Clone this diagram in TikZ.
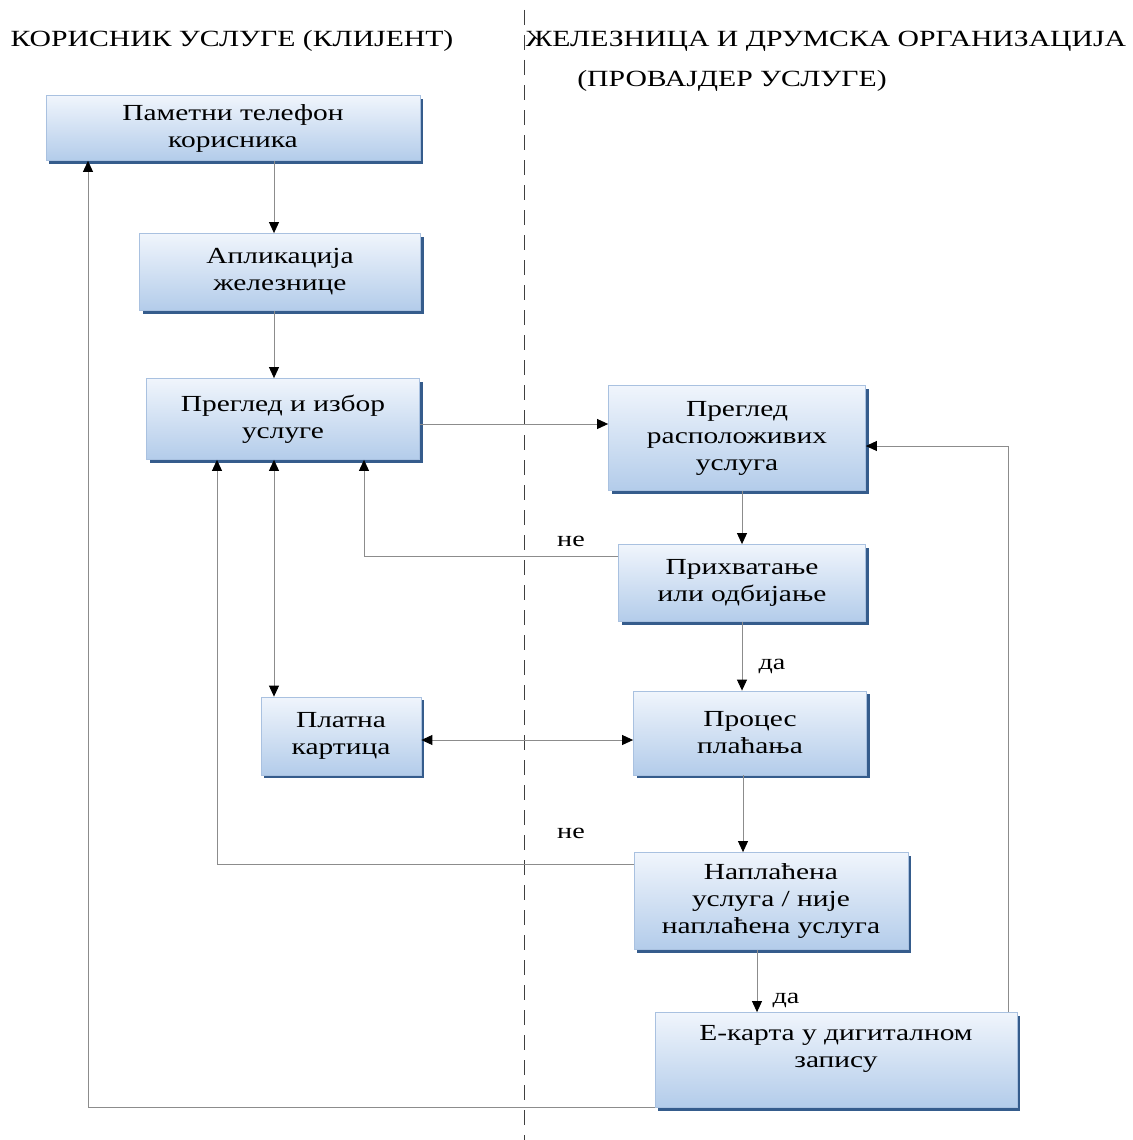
\documentclass[tikz,border=0pt]{standalone}
\usepackage{fontspec}
\setmainfont{Liberation Serif}[FakeStretch=1.28]
\usetikzlibrary{arrows.meta,shadows}
\definecolor{boxtop}{HTML}{F0F5FC}
\definecolor{boxbot}{HTML}{B3CCEA}
\definecolor{boxline}{HTML}{A9C1E0}
\definecolor{boxshadow}{HTML}{355C8C}
\definecolor{linegray}{HTML}{8C8C8C}
\begin{document}
\begin{tikzpicture}[x=1pt,y=-1pt,
  box/.style={draw=boxline, line width=0.8pt, top color=boxtop, bottom color=boxbot,
    drop shadow={shadow xshift=3pt, shadow yshift=-3pt, fill=boxshadow, opacity=1},
    align=center, inner sep=0pt, font=\fontsize{23}{27}\selectfont},
  tip/.tip={Triangle[width=10pt,length=11pt,color=black]},
  conn/.style={draw=linegray, line width=0.9pt, -tip},
  both/.style={draw=linegray, line width=0.9pt, tip-tip},
  heading/.style={font=\fontsize{23.2}{28}\selectfont, inner sep=0pt},
  answer/.style={font=\fontsize{22}{26}\selectfont, inner sep=0pt}]
\useasboundingbox (0,0) rectangle (1132,1140);

% lane divider
\draw[black!75, line width=1pt, dash pattern=on 15pt off 10pt] (524,10) -- (524,1140);

% lane headings
\node[heading] (hl) at (232,41) {КОРИСНИК УСЛУГЕ (КЛИЈЕНТ)};
\node[heading] (hr) at (826,41) {ЖЕЛЕЗНИЦА И ДРУМСКА ОРГАНИЗАЦИЈА};
\node[heading] (hr2) at (732,81) {(ПРОВАЈДЕР УСЛУГЕ)};

% process steps
\node[box, minimum width=374pt, minimum height=65pt] (b1) at (233,128) {Паметни телефон\\корисника};
\node[box, minimum width=281pt, minimum height=77pt] (b2) at (280,272) {Апликација\\железнице};
\node[box, minimum width=273pt, minimum height=81pt] (b3) at (283,419) {Преглед и избор\\услуге};
\node[box, minimum width=257pt, minimum height=105pt] (b4) at (737,438) {Преглед\\расположивих\\услуга};
\node[box, minimum width=247pt, minimum height=77pt] (b5) at (742,583) {Прихватање\\или одбијање};
\node[box, minimum width=160pt, minimum height=78pt] (b6) at (341,736) {Платна\\картица};
\node[box, minimum width=233pt, minimum height=84pt] (b7) at (750,733) {Процес\\плаћања};
\node[box, minimum width=274pt, minimum height=97pt] (b8) at (771,901) {Наплаћена\\услуга / није\\наплаћена услуга};
\node[box, minimum width=362pt, minimum height=95pt] (b9) at (836,1060) {Е-карта у дигиталном\\запису\\~};

% connectors
\draw[conn] (b1.south -| 274,0) -- (b2.north -| 274,0);
\draw[conn] (b2.south -| 274,0) -- (b3.north -| 274,0);
\draw[conn] (b3.east |- 0,424) -- (b4.west |- 0,424);
\draw[conn] (b4.south -| 742,0) -- (b5.north -| 742,0);
\draw[conn] (b5.west |- 0,556) -| (b3.south -| 364,0);
\draw[both] (b3.south -| 274,0) -- (b6.north -| 274,0);
\draw[conn] (b5.south -| 742,0) -- (b7.north -| 742,0);
\draw[both] (b6.east |- 0,740) -- (b7.west |- 0,740);
\draw[conn] (b7.south -| 743,0) -- (b8.north -| 743,0);
\draw[conn] (b8.west |- 0,864) -| (b3.south -| 217,0);
\draw[conn] (b8.south -| 757,0) -- (b9.north -| 757,0);
\draw[conn] (b9.north -| 1008,0) |- (b4.east |- 0,446);
\draw[conn] (b9.south west) -| (b1.south -| 88,0);

% branch labels
\node[answer] (n1) at (571,541) {не};
\node[answer] (y1) at (772,666) {да};
\node[answer] (n2) at (571,833) {не};
\node[answer] (y2) at (786,1000) {да};
\end{tikzpicture}
\end{document}
